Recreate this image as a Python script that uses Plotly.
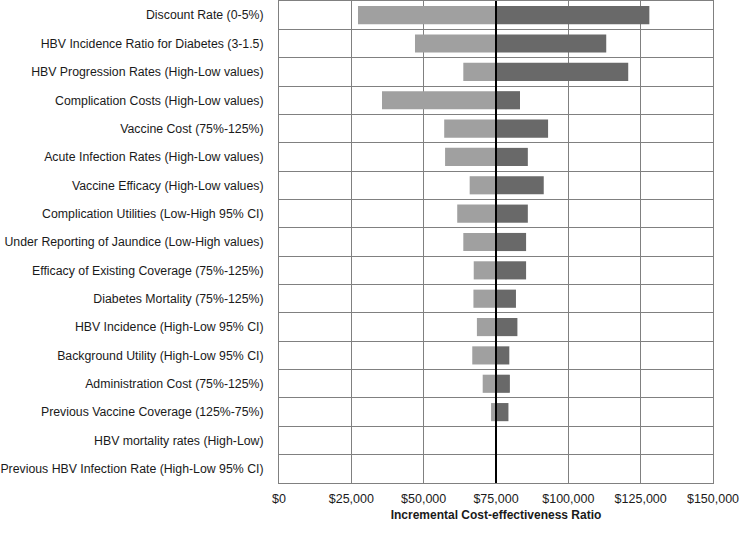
import plotly.graph_objects as go

categories = [
    "Discount Rate (0-5%)",
    "HBV Incidence Ratio for Diabetes (3-1.5)",
    "HBV Progression Rates (High-Low values)",
    "Complication Costs (High-Low values)",
    "Vaccine Cost (75%-125%)",
    "Acute Infection Rates (High-Low values)",
    "Vaccine Efficacy (High-Low values)",
    "Complication Utilities (Low-High 95% CI)",
    "Under Reporting of Jaundice (Low-High values)",
    "Efficacy of Existing Coverage (75%-125%)",
    "Diabetes Mortality (75%-125%)",
    "HBV Incidence (High-Low 95% CI)",
    "Background Utility (High-Low 95% CI)",
    "Administration Cost (75%-125%)",
    "Previous Vaccine Coverage (125%-75%)",
    "HBV mortality rates (High-Low)",
    "Previous HBV Infection Rate (High-Low 95% CI)",
]
base_icer = 75000
low_values = [27300, 47000, 63700, 35600, 57100, 57400, 65900, 61600, 63700,
              67300, 67200, 68400, 66800, 70400, 73300, 75000, 75000]
high_values = [128000, 113100, 120700, 83300, 93000, 86000, 91500, 86000, 85400,
               85400, 81900, 82400, 79600, 79800, 79300, 75000, 75000]
tick_vals = [0, 25000, 50000, 75000, 100000, 125000, 150000]
tick_text = ["$0", "$25,000", "$50,000", "$75,000", "$100,000", "$125,000", "$150,000"]

fig = go.Figure()
fig.add_trace(go.Bar(
    y=categories, x=[base_icer - v for v in low_values], base=low_values,
    orientation="h", marker=dict(color="#A0A0A0", line=dict(width=0)),
    name="Low", showlegend=False, hoverinfo="skip"))
fig.add_trace(go.Bar(
    y=categories, x=[v - base_icer for v in high_values], base=[base_icer] * len(categories),
    orientation="h", marker=dict(color="#696969", line=dict(width=0)),
    name="High", showlegend=False, hoverinfo="skip"))

fig.add_shape(type="line", xref="x", yref="paper", x0=base_icer, x1=base_icer,
              y0=0, y1=1, line=dict(color="black", width=2), layer="above")

fig.update_layout(
    width=740, height=539,
    margin=dict(l=279, r=27, t=1, b=56, autoexpand=False),
    barmode="overlay", bargap=0.36,
    plot_bgcolor="white", paper_bgcolor="white",
    font=dict(family="Liberation Sans, Arial, sans-serif", size=12.3, color="#1a1a1a"),
    xaxis=dict(range=[0, 150000], tickvals=tick_vals, ticktext=tick_text,
               automargin=False, ticklabeloverflow="allow",
               tickfont=dict(size=12.5),
               showgrid=True, gridcolor="#808080", gridwidth=1,
               showline=True, linecolor="#808080", linewidth=1, mirror=True,
               zeroline=False, ticks="", ticklen=0,
               title=dict(text="<b>Incremental Cost-effectiveness Ratio</b>",
                          font=dict(size=12), standoff=5)),
    yaxis=dict(type="category", autorange="reversed", tickson="boundaries",
               automargin=False,
               showgrid=True, gridcolor="#808080", gridwidth=1,
               showline=True, linecolor="#808080", linewidth=1, mirror=True,
               ticks="", ticklen=0),
)
fig.update_yaxes(ticklabelstandoff=12)
fig.update_xaxes(ticklabelstandoff=4)

fig.write_html("out.html",
               config={"displayModeBar": False},
               post_script="document.body.style.margin='0';document.body.style.overflow='hidden';")
